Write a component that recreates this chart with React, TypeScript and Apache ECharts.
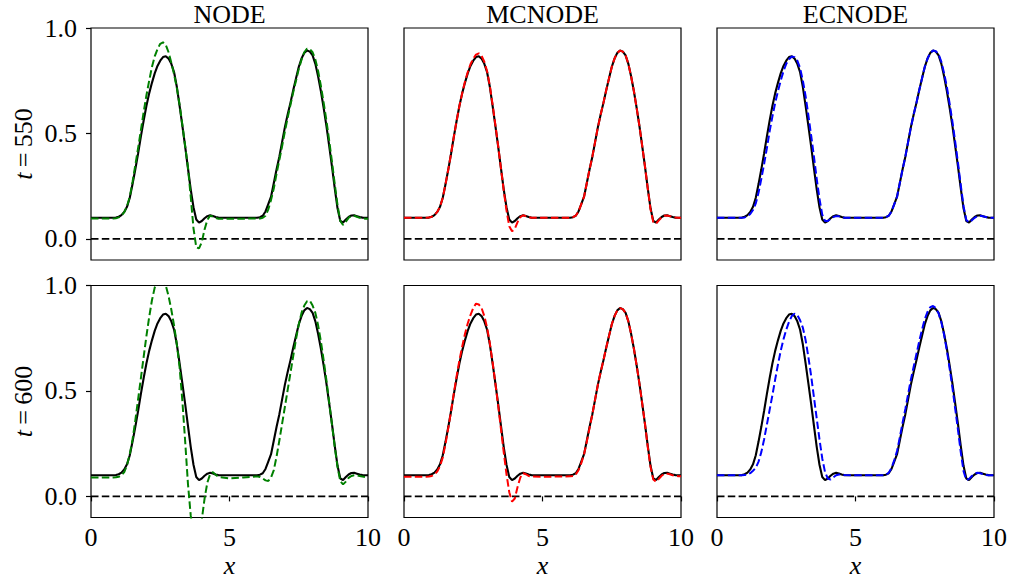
import React, { useEffect, useRef } from "react";
import * as echarts from "echarts";

// Shared x grid (coarse where every curve is flat)
const X = [
  0, 0.5,
  0.8, 0.9, 1.0, 1.1, 1.2, 1.3, 1.4, 1.5, 1.6, 1.7,
  1.8, 1.9, 2.0, 2.1, 2.2, 2.3, 2.4, 2.5, 2.6, 2.7,
  2.8, 2.9, 3.0, 3.1, 3.2, 3.3, 3.4, 3.5, 3.6, 3.7,
  3.8, 3.9, 4.0, 4.1, 4.2, 4.3, 4.4, 4.5, 4.6,
  5.0, 5.5,
  6.0, 6.1, 6.2, 6.3, 6.4, 6.5, 6.6, 6.7, 6.8, 6.9,
  7.0, 7.1, 7.2, 7.3, 7.4, 7.5, 7.6, 7.7, 7.8, 7.9,
  8.0, 8.1, 8.2, 8.3, 8.4, 8.5, 8.6, 8.7, 8.8, 8.9,
  9.0, 9.1, 9.2, 9.3, 9.4, 9.5, 9.6, 9.7, 9.8, 9.9,
  10.0,
];

// Reference solution (black solid)
const EXACT = [
  0.1, 0.1,
  0.1, 0.101, 0.105, 0.113, 0.128, 0.152, 0.195, 0.26, 0.33, 0.405,
  0.485, 0.56, 0.63, 0.69, 0.74, 0.785, 0.82, 0.845, 0.862, 0.866,
  0.855, 0.83, 0.79, 0.72, 0.63, 0.535, 0.438, 0.335, 0.235, 0.15,
  0.092, 0.077, 0.085, 0.098, 0.108, 0.112, 0.109, 0.104, 0.101,
  0.1, 0.1,
  0.1, 0.103, 0.11, 0.13, 0.165, 0.2, 0.265, 0.33, 0.39, 0.46,
  0.53, 0.59, 0.645, 0.705, 0.76, 0.815, 0.855, 0.882, 0.893, 0.888,
  0.87, 0.83, 0.77, 0.7, 0.62, 0.535, 0.44, 0.343, 0.24, 0.145,
  0.085, 0.078, 0.092, 0.104, 0.111, 0.112, 0.108, 0.104, 0.101, 0.1,
  0.1,
];

// NODE predictions (green dashed)
const NODE_T550 = [
  0.097, 0.097,
  0.097, 0.098, 0.102, 0.11, 0.127, 0.155, 0.2, 0.27, 0.35, 0.43,
  0.515, 0.6, 0.68, 0.75, 0.815, 0.865, 0.9, 0.925, 0.932, 0.92,
  0.885, 0.835, 0.78, 0.715, 0.635, 0.54, 0.44, 0.34, 0.2, 0.05,
  -0.04, -0.045, -0.015, 0.045, 0.09, 0.11, 0.106, 0.099, 0.096,
  0.095, 0.096,
  0.097, 0.097, 0.1, 0.11, 0.14, 0.185, 0.24, 0.31, 0.375, 0.44,
  0.51, 0.575, 0.635, 0.695, 0.75, 0.805, 0.85, 0.885, 0.902, 0.9,
  0.885, 0.85, 0.795, 0.725, 0.645, 0.56, 0.465, 0.365, 0.26, 0.16,
  0.085, 0.066, 0.082, 0.1, 0.11, 0.11, 0.105, 0.1, 0.097, 0.096,
  0.096,
];
const NODE_T600 = [
  0.09, 0.09,
  0.09, 0.091, 0.093, 0.1, 0.115, 0.148, 0.2, 0.27, 0.36, 0.46,
  0.56, 0.66, 0.76, 0.85, 0.93, 0.99, 1.03, 1.045, 1.035, 1.0,
  0.95, 0.885, 0.81, 0.72, 0.61, 0.45, 0.26, 0.06, -0.09, -0.19,
  -0.23, -0.2, -0.11, -0.01, 0.065, 0.105, 0.115, 0.103, 0.092,
  0.085, 0.09,
  0.095, 0.092, 0.085, 0.076, 0.073, 0.09, 0.125, 0.19, 0.265, 0.345,
  0.425, 0.505, 0.585, 0.665, 0.745, 0.815, 0.87, 0.905, 0.925, 0.928,
  0.905, 0.87, 0.81, 0.735, 0.645, 0.55, 0.445, 0.34, 0.235, 0.14,
  0.072, 0.057, 0.07, 0.088, 0.097, 0.1, 0.1, 0.097, 0.094, 0.092,
  0.092,
];

// MCNODE predictions (red dashed)
const MCNODE_T550 = [
  0.1, 0.1,
  0.1, 0.101, 0.105, 0.113, 0.128, 0.152, 0.195, 0.26, 0.33, 0.405,
  0.485, 0.56, 0.63, 0.69, 0.745, 0.79, 0.828, 0.855, 0.874, 0.88,
  0.868, 0.84, 0.795, 0.725, 0.635, 0.54, 0.44, 0.335, 0.23, 0.135,
  0.06, 0.036, 0.048, 0.08, 0.103, 0.112, 0.108, 0.103, 0.1,
  0.1, 0.1,
  0.1, 0.103, 0.11, 0.13, 0.165, 0.2, 0.265, 0.33, 0.39, 0.46,
  0.53, 0.59, 0.645, 0.705, 0.76, 0.815, 0.855, 0.882, 0.893, 0.888,
  0.87, 0.83, 0.77, 0.7, 0.62, 0.535, 0.44, 0.343, 0.24, 0.14,
  0.08, 0.072, 0.088, 0.102, 0.11, 0.111, 0.108, 0.104, 0.101, 0.1,
  0.1,
];
const MCNODE_T600 = [
  0.093, 0.093,
  0.093, 0.094, 0.097, 0.104, 0.118, 0.143, 0.185, 0.25, 0.325, 0.405,
  0.49, 0.57, 0.645, 0.71, 0.77, 0.82, 0.86, 0.893, 0.914, 0.91,
  0.893, 0.855, 0.8, 0.725, 0.635, 0.535, 0.43, 0.32, 0.21, 0.105,
  0.02, -0.025, -0.01, 0.045, 0.09, 0.11, 0.105, 0.097, 0.094,
  0.093, 0.094,
  0.095, 0.097, 0.104, 0.124, 0.158, 0.2, 0.26, 0.325, 0.39, 0.46,
  0.53, 0.59, 0.645, 0.705, 0.76, 0.815, 0.855, 0.882, 0.893, 0.888,
  0.87, 0.83, 0.77, 0.7, 0.62, 0.535, 0.44, 0.343, 0.235, 0.14,
  0.08, 0.07, 0.083, 0.098, 0.107, 0.108, 0.105, 0.1, 0.097, 0.096,
  0.096,
];

// ECNODE predictions (blue dashed)
const ECNODE_T550 = [
  0.1, 0.1,
  0.1, 0.1, 0.102, 0.107, 0.118, 0.137, 0.168, 0.22, 0.285, 0.355,
  0.43, 0.51, 0.58, 0.645, 0.7, 0.75, 0.795, 0.83, 0.852, 0.865,
  0.862, 0.845, 0.81, 0.75, 0.675, 0.585, 0.49, 0.39, 0.285, 0.19,
  0.115, 0.085, 0.085, 0.095, 0.104, 0.108, 0.107, 0.103, 0.1,
  0.1, 0.1,
  0.1, 0.103, 0.11, 0.13, 0.165, 0.2, 0.265, 0.33, 0.39, 0.46,
  0.53, 0.59, 0.645, 0.705, 0.76, 0.815, 0.855, 0.882, 0.893, 0.89,
  0.875, 0.84, 0.785, 0.72, 0.64, 0.555, 0.46, 0.36, 0.255, 0.155,
  0.09, 0.078, 0.088, 0.1, 0.108, 0.11, 0.107, 0.104, 0.101, 0.1,
  0.1,
];
const ECNODE_T600 = [
  0.1, 0.1,
  0.1, 0.1, 0.101, 0.104, 0.11, 0.122, 0.135, 0.165, 0.21, 0.27,
  0.34, 0.41, 0.48, 0.555, 0.625, 0.69, 0.745, 0.79, 0.828, 0.855,
  0.866, 0.86, 0.835, 0.8, 0.74, 0.66, 0.57, 0.47, 0.37, 0.27,
  0.18, 0.115, 0.085, 0.08, 0.09, 0.1, 0.104, 0.103, 0.101,
  0.1, 0.1,
  0.1, 0.103, 0.112, 0.135, 0.172, 0.215, 0.28, 0.35, 0.415, 0.485,
  0.555, 0.615, 0.675, 0.735, 0.79, 0.84, 0.875, 0.897, 0.903, 0.893,
  0.868, 0.825, 0.765, 0.69, 0.605, 0.515, 0.415, 0.315, 0.21, 0.12,
  0.078, 0.083, 0.097, 0.107, 0.112, 0.11, 0.106, 0.102, 0.1, 0.1,
  0.1,
];

const COLUMN_TITLES = ["NODE", "MCNODE", "ECNODE"];
const ROW_TIMES = ["550", "600"];
const PREDICTIONS = [
  [NODE_T550, MCNODE_T550, ECNODE_T550],
  [NODE_T600, MCNODE_T600, ECNODE_T600],
];
const COLORS = ["#008000", "#ff0000", "#0000ff"];
const Y_TICKS = [0, 0.5, 1.0];
const X_MIN = 0;
const X_MAX = 10;
const X_STEP = 5;
const Y_MIN = -0.1;
const Y_MAX = 1.0;
const ZERO_LEVEL = 0;

// layout (pixels)
const GRID_LEFT = [91, 404, 717];
const GRID_TOP = [28, 285.5];
const GRID_W = 277;
const GRID_H = 232;

const SERIF = "Liberation Serif, Times New Roman, serif";
const FS = 26;

const toPairs = (ys: number[]) => X.map((x, i) => [x, ys[i]]);

export default function App() {
  const ref = useRef<HTMLDivElement>(null);

  useEffect(() => {
    if (!ref.current) return;
    const chart = echarts.init(ref.current, undefined, { renderer: "svg" });

    const grids: any[] = [];
    const xAxes: any[] = [];
    const yAxes: any[] = [];
    const series: any[] = [];
    const graphics: any[] = [];

    let idx = 0;
    for (let r = 0; r < 2; r++) {
      for (let c = 0; c < 3; c++) {
        grids.push({
          left: GRID_LEFT[c],
          top: GRID_TOP[r],
          width: GRID_W,
          height: GRID_H,
          show: true,
          borderColor: "#000",
          borderWidth: 1.2,
          backgroundColor: "transparent",
          containLabel: false,
          outerBoundsMode: "none",
        });
        xAxes.push({
          type: "value",
          gridIndex: idx,
          min: X_MIN,
          max: X_MAX,
          interval: X_STEP,
          axisLine: { show: false },
          splitLine: { show: false },
          axisTick: { show: r === 1, length: 5, lineStyle: { color: "#000", width: 1.2 } },
          axisLabel: {
            show: r === 1,
            margin: 9,
            fontSize: FS,
            fontFamily: SERIF,
            color: "#000",
            lineHeight: 22,
            showMinLabel: true,
            showMaxLabel: true,
          },
        });
        yAxes.push({
          type: "value",
          gridIndex: idx,
          min: Y_MIN,
          max: Y_MAX,
          axisLine: { show: false },
          splitLine: { show: false },
          axisTick: {
            show: c === 0,
            length: 5,
            customValues: Y_TICKS,
            lineStyle: { color: "#000", width: 1.2 },
          },
          axisLabel: {
            show: c === 0,
            customValues: Y_TICKS,
            formatter: (v: number) => v.toFixed(1),
            margin: 14,
            fontSize: FS,
            fontFamily: SERIF,
            color: "#000",
          },
        });
        series.push({
          type: "line",
          xAxisIndex: idx,
          yAxisIndex: idx,
          data: [
            [X_MIN, ZERO_LEVEL],
            [X_MAX, ZERO_LEVEL],
          ],
          symbol: "none",
          silent: true,
          z: 2,
          lineStyle: { color: "#000", width: 1.7, type: [7.5, 3.3] },
        });
        series.push({
          type: "line",
          xAxisIndex: idx,
          yAxisIndex: idx,
          data: toPairs(EXACT),
          symbol: "none",
          silent: true,
          z: 3,
          lineStyle: { color: "#000", width: 2.1 },
        });
        series.push({
          type: "line",
          xAxisIndex: idx,
          yAxisIndex: idx,
          data: toPairs(PREDICTIONS[r][c]),
          symbol: "none",
          silent: true,
          z: 4,
          lineStyle: { color: COLORS[c], width: 2, type: [7.5, 3.3] },
        });
        idx++;
      }
    }

    for (let c = 0; c < 3; c++) {
      graphics.push({
        type: "text",
        x: GRID_LEFT[c] + GRID_W / 2,
        y: 14.5,
        style: {
          text: COLUMN_TITLES[c],
          fontSize: 26,
          fontFamily: SERIF,
          lineHeight: 22,
          fill: "#000",
          textAlign: "center",
          textVerticalAlign: "middle",
          align: "center",
          verticalAlign: "middle",
        },
      });
      graphics.push({
        type: "text",
        x: GRID_LEFT[c] + GRID_W / 2,
        y: 565,
        style: {
          text: "x",
          fontSize: FS,
          fontFamily: SERIF,
          fontStyle: "italic",
          lineHeight: 18,
          fill: "#000",
          textAlign: "center",
          textVerticalAlign: "middle",
          align: "center",
          verticalAlign: "middle",
        },
      });
    }
    for (let r = 0; r < 2; r++) {
      graphics.push({
        type: "text",
        x: 23.5,
        y: GRID_TOP[r] + GRID_H / 2,
        rotation: Math.PI / 2,
        style: {
          text: "{i|t}{n|\u2009=\u2009" + ROW_TIMES[r] + "}",
          fontSize: FS,
          fontFamily: SERIF,
          fill: "#000",
          textAlign: "center",
          textVerticalAlign: "middle",
          align: "center",
          verticalAlign: "middle",
          rich: {
            i: { fontSize: FS, fontFamily: SERIF, fontStyle: "italic", fill: "#000" },
            n: { fontSize: FS, fontFamily: SERIF, fill: "#000" },
          },
        },
      });
    }

    chart.setOption({
      animation: false,
      backgroundColor: "#fff",
      textStyle: { fontFamily: SERIF },
      grid: grids,
      xAxis: xAxes,
      yAxis: yAxes,
      series,
      graphic: { elements: graphics },
    });

    return () => chart.dispose();
  }, []);

  return (
    <div
      ref={ref}
      style={{ position: "absolute", left: 0, top: 0, width: 1011, height: 588 }}
    />
  );
}
